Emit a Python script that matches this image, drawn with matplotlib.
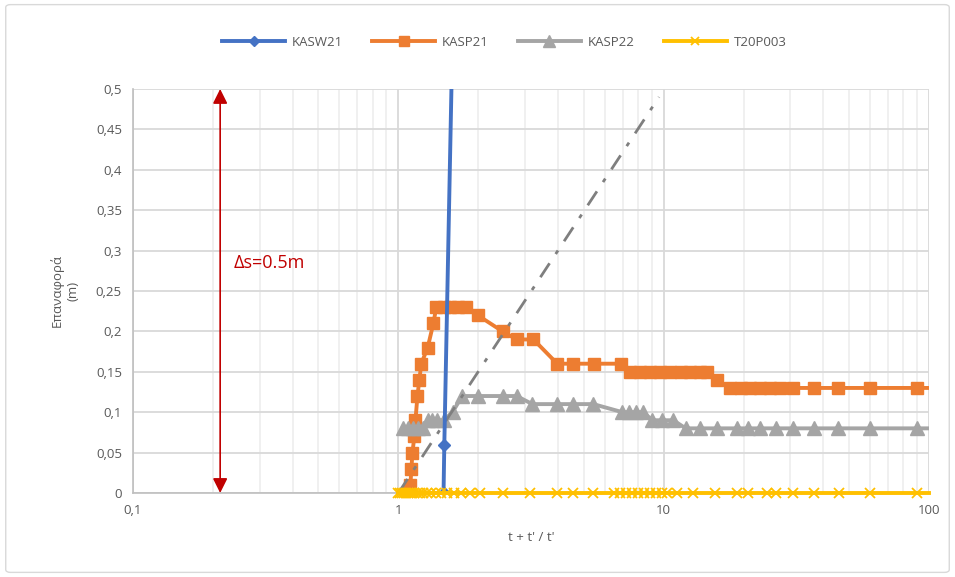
import matplotlib
matplotlib.use("Agg")
import matplotlib.pyplot as plt
from matplotlib.ticker import FixedLocator, NullFormatter
from matplotlib.patches import FancyBboxPatch

plt.rcParams['font.family'] = ['Open Sans', 'DejaVu Sans']

# ---- data ----
kasw21_x = [1.48, 1.49, 1.70]
kasw21_y = [0.0, 0.06, 1.0]

kasp21_x = [1.10, 1.11, 1.12, 1.13, 1.149, 1.16, 1.18, 1.20, 1.22, 1.29, 1.355,
            1.39, 1.48, 1.57, 1.68, 1.80, 1.99, 2.47, 2.79, 3.23, 3.97, 4.57,
            5.48, 6.93, 7.49, 8.17, 8.91, 9.72, 10.6, 11.6, 12.6, 13.7, 14.6,
            15.9, 17.8, 19.5, 21.2, 23.1, 25.2, 27.5, 30.8, 36.7, 45.2, 60.1,
            90.4, 120]
kasp21_y = [0.0, 0.01, 0.03, 0.05, 0.07, 0.09, 0.12, 0.14, 0.16, 0.18, 0.21,
            0.23, 0.23, 0.23, 0.23, 0.23, 0.22, 0.20, 0.19, 0.19, 0.16, 0.16,
            0.16, 0.16, 0.15, 0.15, 0.15, 0.15, 0.15, 0.15, 0.15, 0.15, 0.15,
            0.14, 0.13, 0.13, 0.13, 0.13, 0.13, 0.13, 0.13, 0.13, 0.13, 0.13,
            0.13, 0.13]

kasp22_x = [1.04, 1.09, 1.14, 1.19, 1.24, 1.29, 1.34, 1.40, 1.48, 1.60, 1.74,
            1.99, 2.47, 2.79, 3.20, 3.97, 4.57, 5.43, 6.99, 7.43, 7.88, 8.37,
            9.06, 9.88, 10.87, 12.1, 13.7, 15.9, 18.9, 20.8, 23.1, 26.4, 30.8,
            36.7, 45.2, 60.1, 90.4, 120]
kasp22_y = [0.08, 0.08, 0.08, 0.08, 0.08, 0.09, 0.09, 0.09, 0.09, 0.10, 0.12,
            0.12, 0.12, 0.12, 0.11, 0.11, 0.11, 0.11, 0.10, 0.10, 0.10, 0.10,
            0.09, 0.09, 0.09, 0.08, 0.08, 0.08, 0.08, 0.08, 0.08, 0.08, 0.08,
            0.08, 0.08, 0.08, 0.08, 0.08]

t20p003_x = [1.0, 1.017, 1.035, 1.053, 1.072, 1.091, 1.110, 1.129, 1.149, 1.179,
             1.210, 1.242, 1.286, 1.331, 1.390, 1.452, 1.530, 1.626, 1.728,
             1.868, 2.037, 2.488, 3.145, 3.975, 4.566, 5.433, 6.52, 6.87,
             7.235, 7.62, 8.03, 8.46, 8.91, 9.39, 9.89, 10.3, 11.27, 12.94,
             15.67, 18.96, 20.86, 24.6, 26.4, 30.8, 36.7, 45.6, 60.1, 90.4, 100]
t20p003_y = [0.0] * len(t20p003_x)

guide_x = [1.0, 9.6]
guide_y = [0.0, 0.49]

arrow_x = 0.213
arrow_y = [0.0, 0.5]
label_text = "Δs=0.5m"
label_pos = (0.24, 0.285)

y_ticks = [0, 0.05, 0.1, 0.15, 0.2, 0.25, 0.3, 0.35, 0.4, 0.45, 0.5]
y_ticklabels = ["0", "0,05", "0,1", "0,15", "0,2", "0,25", "0,3", "0,35", "0,4", "0,45", "0,5"]
x_ticks = [0.1, 1, 10, 100]
x_ticklabels = ["0,1", "1", "10", "100"]

# ---- figure ----
fig = plt.figure(figsize=(9.55, 5.77), dpi=100)
fig.patches.append(FancyBboxPatch((0.006, 0.008), 0.988, 0.984,
                                  boxstyle="round,pad=0,rounding_size=0.005",
                                  transform=fig.transFigure, fill=False,
                                  edgecolor="#D9D9D9", linewidth=1))
ax = fig.add_axes([0.1393, 0.1456, 0.8335, 0.7002])
ax.set_xscale('log')

minor = [m * 10.0 ** e for e in (-1, 0, 1) for m in range(2, 10)]
ax.xaxis.set_major_locator(FixedLocator(x_ticks))
ax.xaxis.set_minor_locator(FixedLocator(minor))
ax.xaxis.set_minor_formatter(NullFormatter())
ax.set_xticklabels(x_ticklabels)
ax.set_yticks(y_ticks)
ax.set_yticklabels(y_ticklabels)
ax.grid(True, which='major', axis='both', color='#D9D9D9', linewidth=1.3)
ax.grid(True, which='minor', axis='x', color='#EFEFEF', linewidth=1.3)
ax.set_axisbelow(True)
ax.tick_params(which='both', length=0, labelsize=9.5, colors='#595959', pad=8)
for s in ('top', 'right'):
    ax.spines[s].set_visible(False)
for s in ('left', 'bottom'):
    ax.spines[s].set_color('#BFBFBF')
    ax.spines[s].set_linewidth(1.2)

ax.plot(kasp21_x, kasp21_y, color='#ED7D31', lw=2.8, marker='s', ms=9,
        label='KASP21', zorder=3)
ax.plot(kasp22_x, kasp22_y, color='#A5A5A5', lw=2.8, marker='^', ms=9.5,
        label='KASP22', zorder=4)
ax.plot(guide_x, guide_y, color='#7F7F7F', lw=2.0, dashes=(6, 4, 1.5, 4), zorder=5)
ax.plot(kasw21_x, kasw21_y, color='#4472C4', lw=2.8, marker='D', ms=6.5,
        label='KASW21', zorder=6)
ax.plot(t20p003_x, t20p003_y, color='#FFC000', lw=2.8, marker='x', ms=7,
        mew=1.3, label='T20P003', zorder=7, clip_on=False,
        markevery=list(range(len(t20p003_x) - 1)))
ax.set_xlim(0.1, 100)
ax.set_ylim(0, 0.5)

ax.annotate('', xy=(arrow_x, arrow_y[1]), xytext=(arrow_x, arrow_y[0]),
            arrowprops=dict(arrowstyle='<|-|>', color='#C00000', lw=1.2,
                            mutation_scale=22, shrinkA=0, shrinkB=0), zorder=8)
ax.text(label_pos[0], label_pos[1], label_text, color='#C00000', fontsize=13,
        va='center', ha='left')

ax.set_xlabel("t + t' / t'", fontsize=9.5, color='#595959', labelpad=10)
ax.set_ylabel("Επαναφορά\n(m)", fontsize=9.5, color='#595959', labelpad=12)

handles, labels = ax.get_legend_handles_labels()
order = [labels.index(n) for n in ['KASW21', 'KASP21', 'KASP22', 'T20P003']]
fig.legend([handles[i] for i in order], [labels[i] for i in order],
           loc='center', bbox_to_anchor=(0.528, 0.927), ncol=4, frameon=False,
           fontsize=9.5, handlelength=4.8, handletextpad=0.5, columnspacing=2.2,
           labelcolor='#595959', markerscale=0.85)

fig.savefig('out.png', dpi=100)
